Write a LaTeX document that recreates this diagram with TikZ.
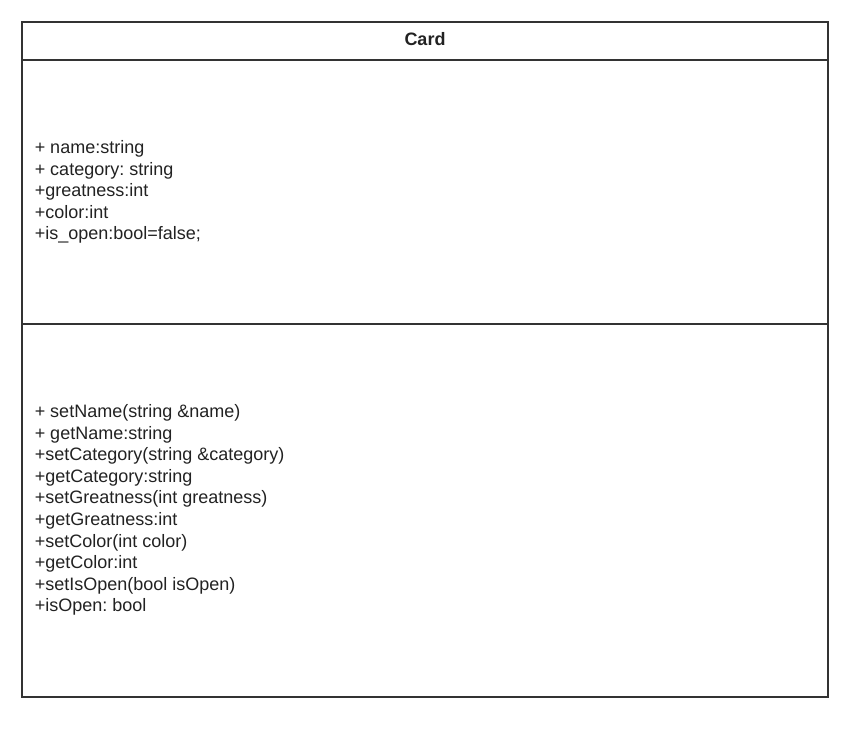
\documentclass[tikz,border=0pt]{standalone}
\usepackage{fontspec}
\setmainfont{Liberation Sans}
\frenchspacing

\tikzset{every picture/.style={line width=1.5pt}}
\tikzset{
  umlline/.style={draw={rgb,255:red,51;green,51;blue,51}},
  umltext/.style={inner sep=0pt, align=left, anchor=west,
    font={\fontsize{18}{21.6}\selectfont}, text={rgb,255:red,34;green,34;blue,34}},
}

\begin{document}
\begin{tikzpicture}[x=1pt,y=1pt,yscale=-1]
  \useasboundingbox (0,0) rectangle (859,728);

  %Shape: Class box
  \draw[umlline] (22,22) rectangle (828,697);
  %Shape: separator under name
  \draw[umlline] (22,60) -- (828,60);
  %Shape: separator under attributes
  \draw[umlline] (22,324) -- (828,324);

  % Text Node
  \node (cardname) at (425,39) [inner sep=0pt, font={\fontsize{18}{21.6}\selectfont\bfseries}, text={rgb,255:red,34;green,34;blue,34}] {Card};
  % Text Node
  \node (cardattrs) at (34,192) [umltext] {+ name:string\\+ category: string\\+greatness:int\\+color:int\\+is\_open:bool=false;};
  % Text Node
  \node (cardmethods) at (34,510) [umltext] {+ setName(string \&name)\\+ getName:string\\+setCategory(string \&category)\\+getCategory:string\\+setGreatness(int greatness)\\+getGreatness:int\\+setColor(int color)\\+getColor:int\\+setIsOpen(bool isOpen)\\+isOpen: bool};
\end{tikzpicture}
\end{document}
